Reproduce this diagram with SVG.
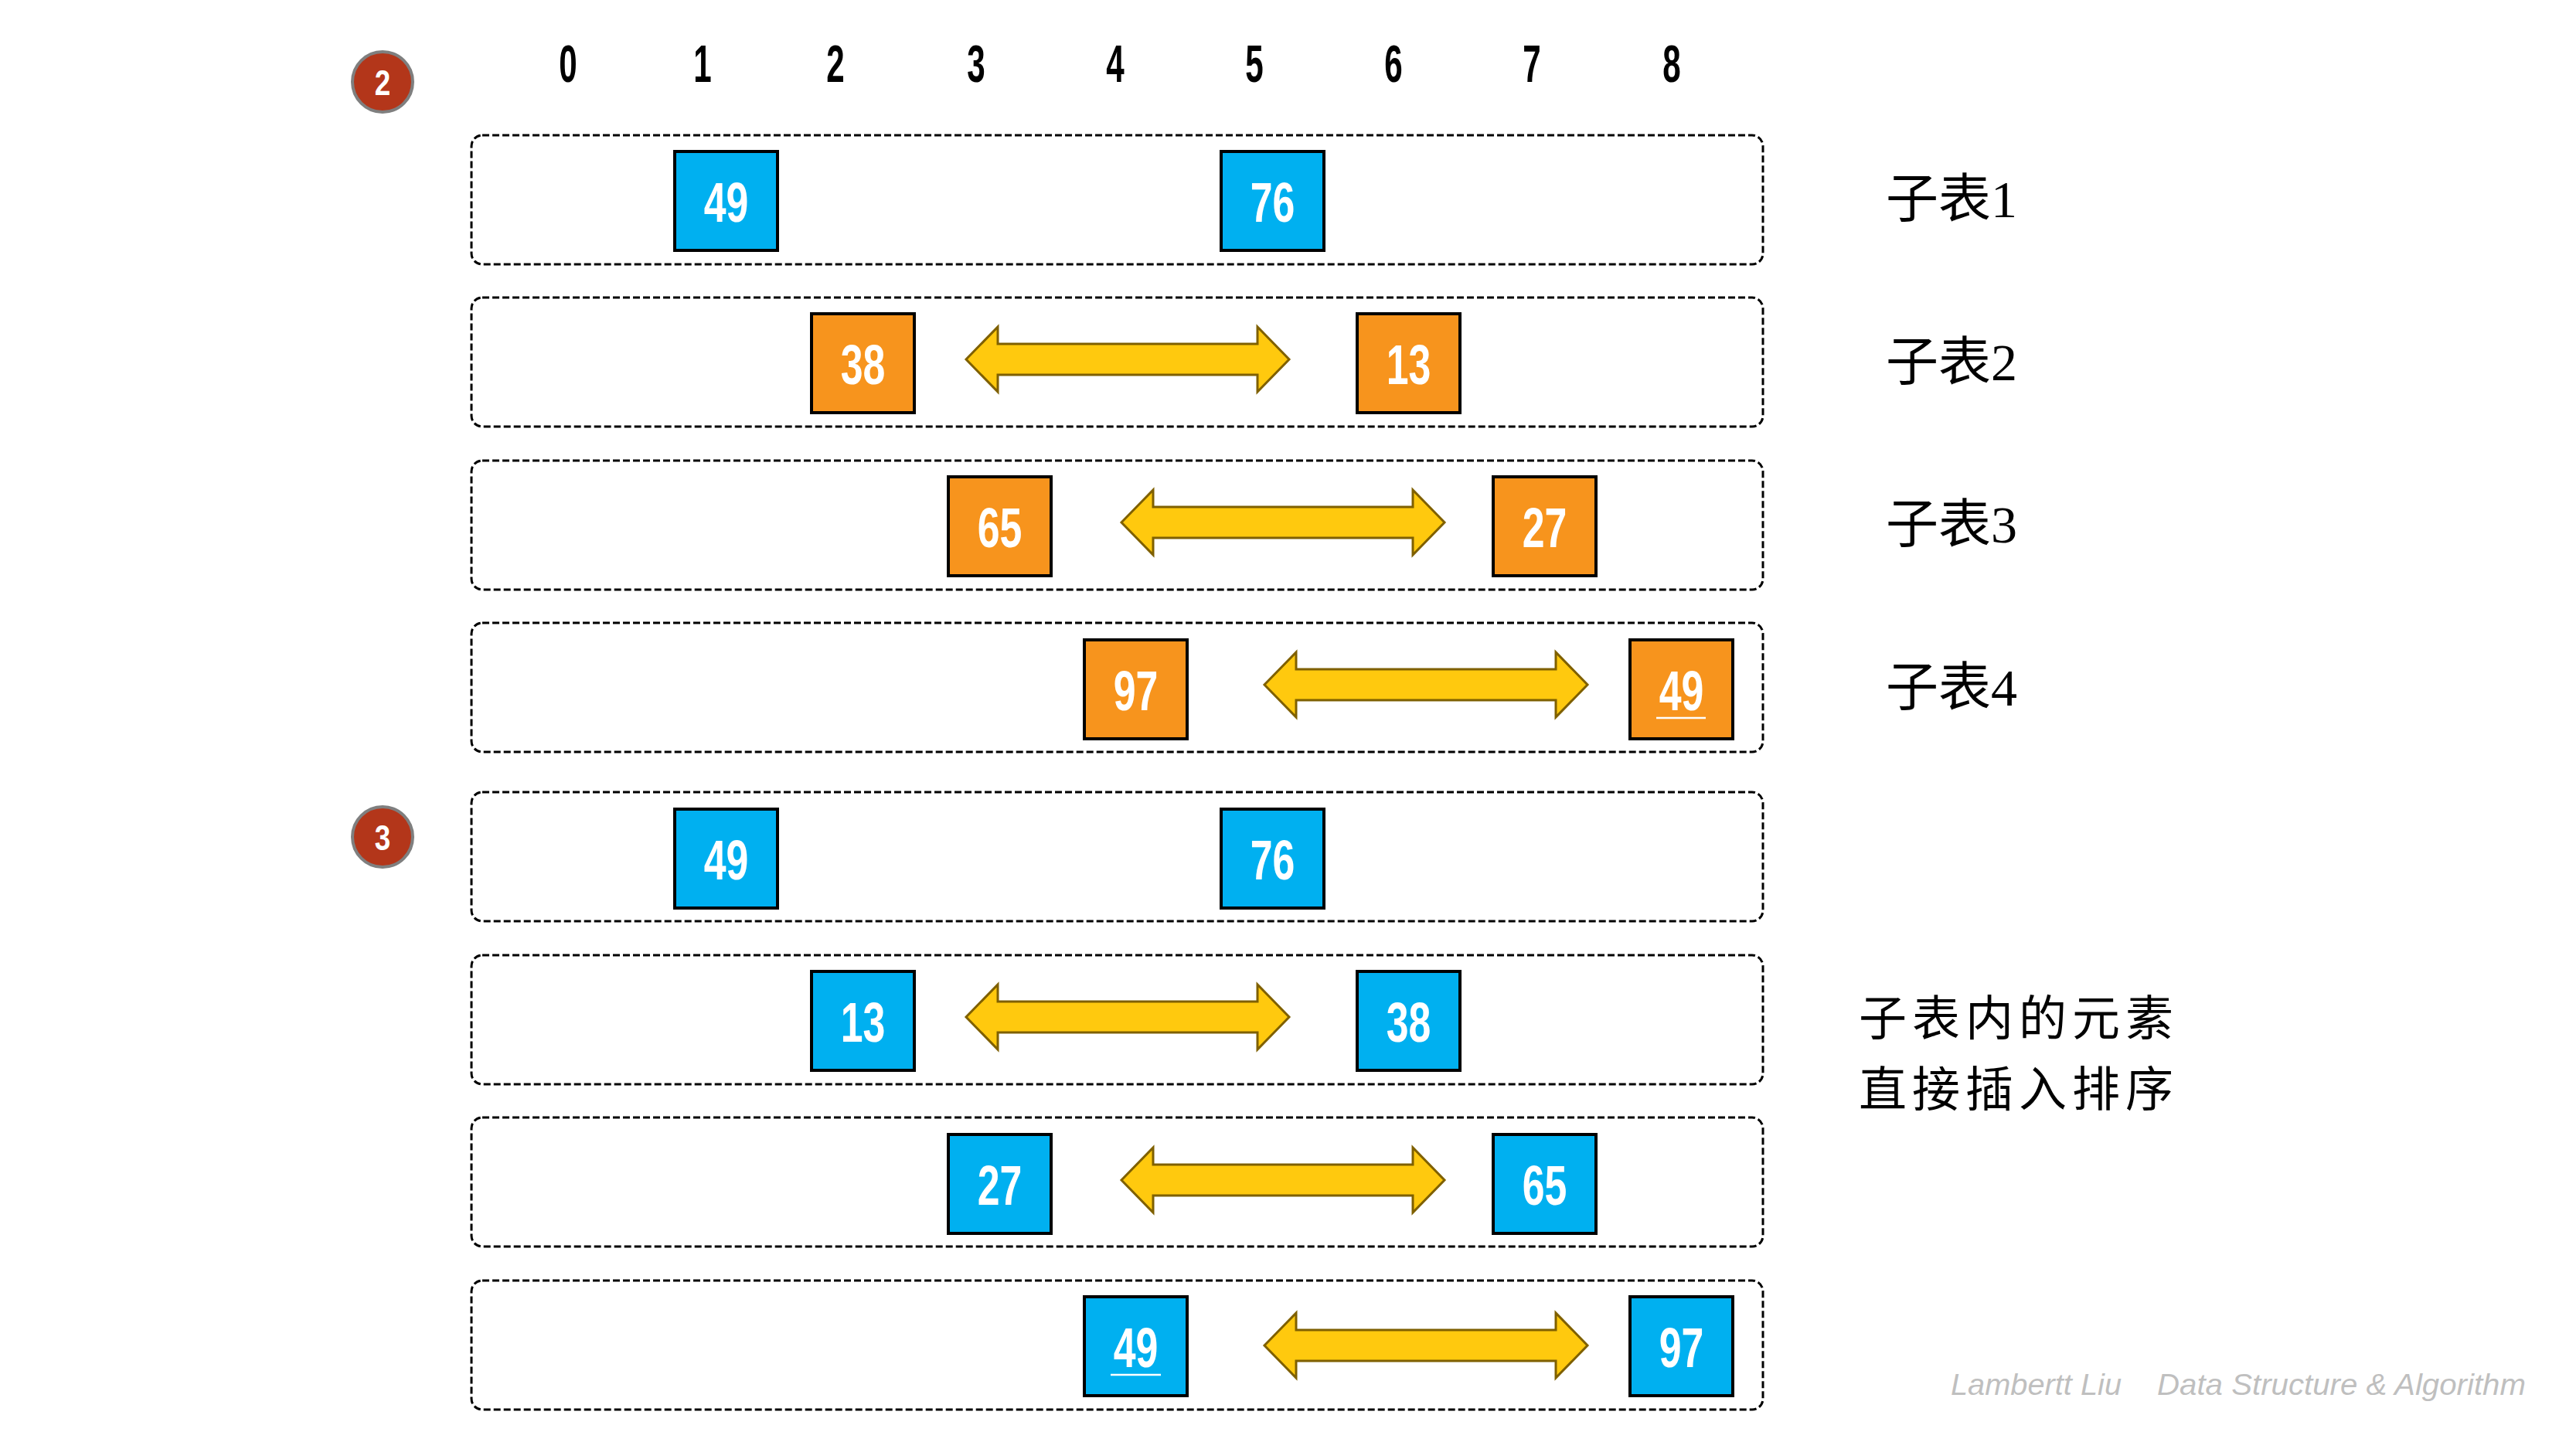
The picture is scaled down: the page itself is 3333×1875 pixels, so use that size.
<svg xmlns="http://www.w3.org/2000/svg" width="3333" height="1875" viewBox="0 0 3333 1875">
<style>
.row{fill:none;stroke:#000;stroke-width:3;stroke-dasharray:9 4}
.b{fill:#00B0F0;stroke:#000;stroke-width:4}
.o{fill:#F7941D;stroke:#000;stroke-width:4}
.num{font-family:"Liberation Sans",Arial,sans-serif;font-weight:bold;font-size:72px;fill:#fff;text-anchor:middle}
.col{font-family:"Liberation Sans",Arial,sans-serif;font-weight:bold;font-size:68px;fill:#000;text-anchor:middle}
.step{fill:#B3361A;stroke:#7F7F7F;stroke-width:4}
.stepn{font-family:"Liberation Sans",Arial,sans-serif;font-weight:bold;font-size:46px;fill:#fff;text-anchor:middle}
.lbl{font-family:"Liberation Serif","Noto Sans CJK SC",serif;font-size:68px;fill:#000}
.lbl2{font-family:"Noto Sans CJK SC",sans-serif;font-size:62px;letter-spacing:7px;fill:#000}
.foot{font-family:"Liberation Sans",Arial,sans-serif;font-style:italic;font-size:38px;fill:#BFBFBF}
.arrow{fill:#FFC90E;stroke:#7F6000;stroke-width:3;stroke-linejoin:miter}
.ul{stroke:#fff;stroke-width:2.5}
</style>
<defs>
<path id="dbl" class="arrow" d="M0,0 L41,-42 L41,-20 L377,-20 L377,-42 L418,0 L377,42 L377,20 L41,20 L41,42 Z"/>
</defs>

<g id="header">
<text class="col" transform="translate(735,106) scale(0.62,1)">0</text>
<text class="col" transform="translate(909,106) scale(0.62,1)">1</text>
<text class="col" transform="translate(1081,106) scale(0.62,1)">2</text>
<text class="col" transform="translate(1263,106) scale(0.62,1)">3</text>
<text class="col" transform="translate(1443,106) scale(0.62,1)">4</text>
<text class="col" transform="translate(1623,106) scale(0.62,1)">5</text>
<text class="col" transform="translate(1803,106) scale(0.62,1)">6</text>
<text class="col" transform="translate(1982,106) scale(0.62,1)">7</text>
<text class="col" transform="translate(2163,106) scale(0.62,1)">8</text>
</g>

<g id="step2">
<circle class="step" cx="495" cy="106" r="39"/>
<text class="stepn" transform="translate(495,123) scale(0.8,1)">2</text>
</g>
<g id="step3">
<circle class="step" cx="495" cy="1083" r="39"/>
<text class="stepn" transform="translate(495,1100) scale(0.8,1)">3</text>
</g>

<g id="rows">
<rect id="row1" class="row" x="610" y="175" width="1671" height="167" rx="14"/>
<rect id="row2" class="row" x="610" y="385" width="1671" height="167" rx="14"/>
<rect id="row3" class="row" x="610" y="596" width="1671" height="167" rx="14"/>
<rect id="row4" class="row" x="610" y="806" width="1671" height="167" rx="14"/>
<rect id="row5" class="row" x="610" y="1025" width="1671" height="167" rx="14"/>
<rect id="row6" class="row" x="610" y="1236" width="1671" height="167" rx="14"/>
<rect id="row7" class="row" x="610" y="1446" width="1671" height="167" rx="14"/>
<rect id="row8" class="row" x="610" y="1657" width="1671" height="167" rx="14"/>
</g>

<g id="connectors">
<use href="#dbl" x="1250" y="465"/>
<use href="#dbl" x="1451" y="676"/>
<use href="#dbl" x="1636" y="886"/>
<use href="#dbl" x="1250" y="1316"/>
<use href="#dbl" x="1451" y="1527"/>
<use href="#dbl" x="1636" y="1741"/>
</g>

<g id="r1n1"><rect class="b" x="873" y="196" width="133" height="128"/><text class="num" transform="translate(939.5,287) scale(0.72,1)">49</text></g>
<g id="r1n2"><rect class="b" x="1580" y="196" width="133" height="128"/><text class="num" transform="translate(1646.5,287) scale(0.72,1)">76</text></g>

<g id="r2n1"><rect class="o" x="1050" y="406" width="133" height="128"/><text class="num" transform="translate(1116.5,497) scale(0.72,1)">38</text></g>
<g id="r2n2"><rect class="o" x="1756" y="406" width="133" height="128"/><text class="num" transform="translate(1822.5,497) scale(0.72,1)">13</text></g>

<g id="r3n1"><rect class="o" x="1227" y="617" width="133" height="128"/><text class="num" transform="translate(1293.5,708) scale(0.72,1)">65</text></g>
<g id="r3n2"><rect class="o" x="1932" y="617" width="133" height="128"/><text class="num" transform="translate(1998.5,708) scale(0.72,1)">27</text></g>

<g id="r4n1"><rect class="o" x="1403" y="828" width="133" height="128"/><text class="num" transform="translate(1469.5,919) scale(0.72,1)">97</text></g>
<g id="r4n2"><rect class="o" x="2109" y="828" width="133" height="128"/><text class="num" transform="translate(2175.5,919) scale(0.72,1)">49</text><line class="ul" x1="2143" y1="929" x2="2207" y2="929"/></g>

<g id="r5n1"><rect class="b" x="873" y="1047" width="133" height="128"/><text class="num" transform="translate(939.5,1138) scale(0.72,1)">49</text></g>
<g id="r5n2"><rect class="b" x="1580" y="1047" width="133" height="128"/><text class="num" transform="translate(1646.5,1138) scale(0.72,1)">76</text></g>

<g id="r6n1"><rect class="b" x="1050" y="1257" width="133" height="128"/><text class="num" transform="translate(1116.5,1348) scale(0.72,1)">13</text></g>
<g id="r6n2"><rect class="b" x="1756" y="1257" width="133" height="128"/><text class="num" transform="translate(1822.5,1348) scale(0.72,1)">38</text></g>

<g id="r7n1"><rect class="b" x="1227" y="1468" width="133" height="128"/><text class="num" transform="translate(1293.5,1559) scale(0.72,1)">27</text></g>
<g id="r7n2"><rect class="b" x="1932" y="1468" width="133" height="128"/><text class="num" transform="translate(1998.5,1559) scale(0.72,1)">65</text></g>

<g id="r8n1"><rect class="b" x="1403" y="1678" width="133" height="128"/><text class="num" transform="translate(1469.5,1769) scale(0.72,1)">49</text><line class="ul" x1="1437" y1="1779" x2="1502" y2="1779"/></g>
<g id="r8n2"><rect class="b" x="2109" y="1678" width="133" height="128"/><text class="num" transform="translate(2175.5,1769) scale(0.72,1)">97</text></g>

<g id="labels">
<text class="lbl" x="2440" y="281">子表1</text>
<text class="lbl" x="2440" y="492">子表2</text>
<text class="lbl" x="2440" y="702">子表3</text>
<text class="lbl" x="2440" y="913">子表4</text>
<text class="lbl2" x="2405" y="1340">子表内的元素</text>
<text class="lbl2" x="2405" y="1432">直接插入排序</text>
</g>

<g id="footer">
<text class="foot" x="2524" y="1805" textLength="221" lengthAdjust="spacingAndGlyphs">Lambertt Liu</text>
<text class="foot" x="2791" y="1805" textLength="477" lengthAdjust="spacingAndGlyphs">Data Structure &amp; Algorithm</text>
</g>
</svg>
